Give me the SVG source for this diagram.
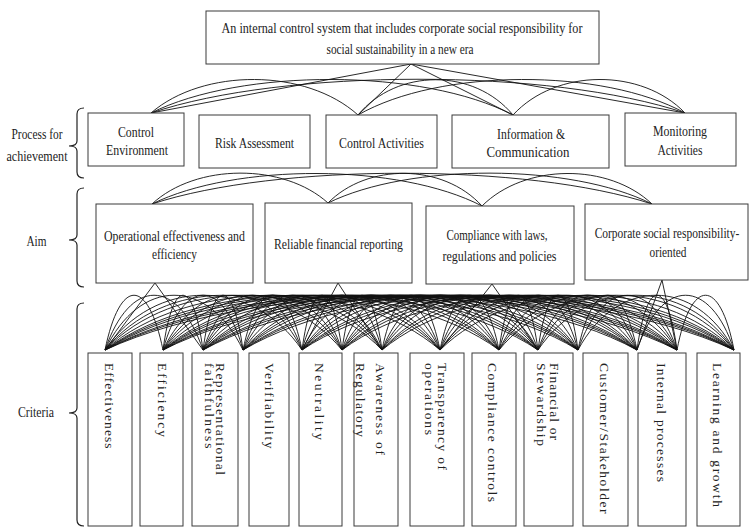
<svg xmlns="http://www.w3.org/2000/svg" width="750" height="528" viewBox="0 0 750 528">
<style>
.box{fill:#fff;stroke:#3a3a3a;stroke-width:1}
.lbl{font-family:"Liberation Serif","DejaVu Serif",serif;font-size:14px;fill:#222;text-anchor:middle}
.crit{font-family:"Liberation Serif","DejaVu Serif",serif;font-size:13.5px;fill:#222}
.con{fill:none;stroke:#111;stroke-width:0.9}
.br{fill:none;stroke:#222;stroke-width:1.2}
</style>
<rect x="0" y="0" width="750" height="528" fill="#fff"/>
<g id="connectors" class="con">
<path d="M411,64 L151,113 M411,64 L358,115 M411,64 L513,115 M411,64 L685,113"/>
<path d="M151,113 C203,68 306,68 358,115 M151,113 C241,68 423,68 513,115 M151,113 C284,68 552,68 685,113 M358,115 C397,68 474,68 513,115 M358,115 C440,68 603,68 685,113 M513,115 C556,68 642,68 685,113"/>
<path d="M152,204 C196,163 284,163 328,203 M152,204 C235,163 399,163 482,206 M152,204 C277,163 527,163 652,204 M328,203 C367,163 443,163 482,206 M328,203 C409,163 571,163 652,204 M482,206 C525,163 609,163 652,204"/>
<path d="M155,283 L105,350 M155,283 L203,350 M338,283 L302,350 M338,283 L382,350 M492,284 L440,350 M492,284 L538,350 M662,280 L637,350 M662,280 L677,350"/>
<path d="M105,350 C120,277 148,277 163,350 M105,350 C130,277 178,277 203,350 M105,350 C140,277 208,277 243,350 M105,350 C154,277 253,277 302,350 M105,350 C164,277 283,277 342,350 M105,350 C174,277 313,277 382,350 M105,350 C189,277 356,277 440,350 M105,350 C204,277 400,277 499,350 M105,350 C213,277 430,277 538,350 M105,350 C223,277 460,277 578,350 M105,350 C238,277 504,277 637,350 M105,350 C248,277 534,277 677,350 M105,350 C262,277 577,277 734,350"/>
<path d="M163,350 C173,277 193,277 203,350 M163,350 C183,277 223,277 243,350 M163,350 C198,277 267,277 302,350 M163,350 C208,277 297,277 342,350 M163,350 C218,277 327,277 382,350 M163,350 C232,277 371,277 440,350 M163,350 C247,277 415,277 499,350 M163,350 C257,277 444,277 538,350 M163,350 C267,277 474,277 578,350 M163,350 C282,277 518,277 637,350 M163,350 C292,277 548,277 677,350 M163,350 C306,277 591,277 734,350"/>
<path d="M203,350 C213,277 233,277 243,350 M203,350 C228,277 277,277 302,350 M203,350 C238,277 307,277 342,350 M203,350 C248,277 337,277 382,350 M203,350 C262,277 381,277 440,350 M203,350 C277,277 425,277 499,350 M203,350 C287,277 454,277 538,350 M203,350 C297,277 484,277 578,350 M203,350 C312,277 528,277 637,350 M203,350 C322,277 558,277 677,350 M203,350 C336,277 601,277 734,350"/>
<path d="M243,350 C258,277 287,277 302,350 M243,350 C268,277 317,277 342,350 M243,350 C278,277 347,277 382,350 M243,350 C292,277 391,277 440,350 M243,350 C307,277 435,277 499,350 M243,350 C317,277 464,277 538,350 M243,350 C327,277 494,277 578,350 M243,350 C342,277 538,277 637,350 M243,350 C352,277 568,277 677,350 M243,350 C366,277 611,277 734,350"/>
<path d="M302,350 C312,277 332,277 342,350 M302,350 C322,277 362,277 382,350 M302,350 C337,277 405,277 440,350 M302,350 C351,277 450,277 499,350 M302,350 C361,277 479,277 538,350 M302,350 C371,277 509,277 578,350 M302,350 C386,277 553,277 637,350 M302,350 C396,277 583,277 677,350 M302,350 C410,277 626,277 734,350"/>
<path d="M342,350 C352,277 372,277 382,350 M342,350 C367,277 415,277 440,350 M342,350 C381,277 460,277 499,350 M342,350 C391,277 489,277 538,350 M342,350 C401,277 519,277 578,350 M342,350 C416,277 563,277 637,350 M342,350 C426,277 593,277 677,350 M342,350 C440,277 636,277 734,350"/>
<path d="M382,350 C397,277 425,277 440,350 M382,350 C411,277 470,277 499,350 M382,350 C421,277 499,277 538,350 M382,350 C431,277 529,277 578,350 M382,350 C446,277 573,277 637,350 M382,350 C456,277 603,277 677,350 M382,350 C470,277 646,277 734,350"/>
<path d="M440,350 C455,277 484,277 499,350 M440,350 C465,277 513,277 538,350 M440,350 C475,277 543,277 578,350 M440,350 C489,277 588,277 637,350 M440,350 C499,277 618,277 677,350 M440,350 C514,277 660,277 734,350"/>
<path d="M499,350 C509,277 528,277 538,350 M499,350 C519,277 558,277 578,350 M499,350 C534,277 602,277 637,350 M499,350 C544,277 632,277 677,350 M499,350 C558,277 675,277 734,350"/>
<path d="M538,350 C548,277 568,277 578,350 M538,350 C563,277 612,277 637,350 M538,350 C573,277 642,277 677,350 M538,350 C587,277 685,277 734,350"/>
<path d="M578,350 C593,277 622,277 637,350 M578,350 C603,277 652,277 677,350 M578,350 C617,277 695,277 734,350"/>
<path d="M637,350 C647,277 667,277 677,350 M637,350 C661,277 710,277 734,350 M677,350 C691,277 720,277 734,350"/>
</g>
<g id="brackets" class="br">
<path d="M84,108 Q77,108 77,114 L77,141 Q77,146 69,146 Q77,146 77,151 L77,172 Q77,178 84,178"/>
<path d="M84,188 Q77,188 77,194 L77,235 Q77,240 69,240 Q77,240 77,245 L77,281 Q77,287 84,287"/>
<path d="M84,303 Q77,303 77,309 L77,408 Q77,413 69,413 Q77,413 77,418 L77,520 Q77,526 84,526"/>
</g>
<g id="side-labels">
<text class="lbl" x="37" y="138.5" textLength="51" lengthAdjust="spacingAndGlyphs">Process for</text>
<text class="lbl" x="37" y="160.5" textLength="61" lengthAdjust="spacingAndGlyphs">achievement</text>
<text class="lbl" x="36.5" y="245.5" textLength="20" lengthAdjust="spacingAndGlyphs">Aim</text>
<text class="lbl" x="36" y="416.5" textLength="36" lengthAdjust="spacingAndGlyphs">Criteria</text>
</g>
<g id="goal">
<rect class="box" x="206" y="11" width="393" height="53"/>
<text class="lbl" x="402" y="33" textLength="361" lengthAdjust="spacingAndGlyphs">An internal control system that includes corporate social responsibility for</text>
<text class="lbl" x="400" y="54" textLength="147" lengthAdjust="spacingAndGlyphs">social sustainability in a new era</text>
</g>
<g id="control-environment">
<rect class="box" x="88" y="113" width="96" height="53"/>
<text class="lbl" x="136" y="136.5" textLength="36" lengthAdjust="spacingAndGlyphs">Control</text>
<text class="lbl" x="137" y="154.5" textLength="62" lengthAdjust="spacingAndGlyphs">Environment</text>
</g>
<g id="risk-assessment">
<rect class="box" x="199" y="115" width="111" height="53"/>
<text class="lbl" x="254.5" y="148" textLength="79" lengthAdjust="spacingAndGlyphs">Risk Assessment</text>
</g>
<g id="control-activities">
<rect class="box" x="326" y="115" width="111" height="53"/>
<text class="lbl" x="381.5" y="148" textLength="85" lengthAdjust="spacingAndGlyphs">Control Activities</text>
</g>
<g id="information-communication">
<rect class="box" x="452" y="115" width="157" height="53"/>
<text class="lbl" x="531" y="138.5" textLength="68" lengthAdjust="spacingAndGlyphs">Information &amp;</text>
<text class="lbl" x="528" y="156.5" textLength="83" lengthAdjust="spacingAndGlyphs">Communication</text>
</g>
<g id="monitoring-activities">
<rect class="box" x="625" y="113" width="111" height="53"/>
<text class="lbl" x="680" y="136" textLength="54" lengthAdjust="spacingAndGlyphs">Monitoring</text>
<text class="lbl" x="680" y="154.5" textLength="45" lengthAdjust="spacingAndGlyphs">Activities</text>
</g>
<g id="aim-operational">
<rect class="box" x="96" y="204" width="157" height="79"/>
<text class="lbl" x="174.5" y="240.5" textLength="141" lengthAdjust="spacingAndGlyphs">Operational effectiveness and</text>
<text class="lbl" x="174.5" y="258.5" textLength="45" lengthAdjust="spacingAndGlyphs">efficiency</text>
</g>
<g id="aim-reliable">
<rect class="box" x="265" y="203" width="147" height="80"/>
<text class="lbl" x="338.5" y="248.5" textLength="129" lengthAdjust="spacingAndGlyphs">Reliable financial reporting</text>
</g>
<g id="aim-compliance">
<rect class="box" x="426" y="206" width="148" height="78"/>
<text class="lbl" x="497" y="239.5" textLength="101" lengthAdjust="spacingAndGlyphs">Compliance with laws,</text>
<text class="lbl" x="499.5" y="260.5" textLength="114" lengthAdjust="spacingAndGlyphs">regulations and policies</text>
</g>
<g id="aim-csr">
<rect class="box" x="585" y="204" width="163" height="76"/>
<text class="lbl" transform="translate(667,237.5) scale(0.82,1)" x="0" y="0">Corporate social responsibility-</text>
<text class="lbl" x="668" y="256.5" textLength="37" lengthAdjust="spacingAndGlyphs">oriented</text>
</g>
<g id="c-effectiveness"><rect class="box" x="88" y="353" width="44" height="173"/><text class="crit" transform="translate(105,363) rotate(90)" textLength="85.6">Effectiveness</text></g>
<g id="c-efficiency"><rect class="box" x="140" y="353" width="43" height="173"/><text class="crit" transform="translate(158,363) rotate(90)" textLength="74">Efficiency</text></g>
<g id="c-representational"><rect class="box" x="192" y="353" width="46" height="173"/><text class="crit" transform="translate(216,363) rotate(90)" textLength="112">Representational</text><text class="crit" transform="translate(204.5,363) rotate(90)" textLength="85.6">faithfulness</text></g>
<g id="c-verifiability"><rect class="box" x="249" y="353" width="40" height="173"/><text class="crit" transform="translate(264.5,363) rotate(90)" textLength="85.6">Verifiability</text></g>
<g id="c-neutrality"><rect class="box" x="299" y="353" width="43" height="173"/><text class="crit" transform="translate(314.5,363) rotate(90)" textLength="77">Neutrality</text></g>
<g id="c-awareness"><rect class="box" x="354" y="353" width="44" height="173"/><text class="crit" transform="translate(376,363) rotate(90)" textLength="92">Awareness of</text><text class="crit" transform="translate(356,363) rotate(90)" textLength="74">Regulatory</text></g>
<g id="c-transparency"><rect class="box" x="410" y="353" width="54" height="173"/><text class="crit" transform="translate(438,363) rotate(90)" textLength="107">Transparency of</text><text class="crit" transform="translate(425,363) rotate(90)" textLength="72">operations</text></g>
<g id="c-compliance"><rect class="box" x="472" y="353" width="44" height="173"/><text class="crit" transform="translate(488,363) rotate(90)" textLength="139">Compliance controls</text></g>
<g id="c-financial"><rect class="box" x="524" y="353" width="49" height="173"/><text class="crit" transform="translate(550,363) rotate(90)" textLength="77">Financial or</text><text class="crit" transform="translate(536.5,363) rotate(90)" textLength="83">Stewardship</text></g>
<g id="c-customer"><rect class="box" x="583" y="353" width="45" height="173"/><text class="crit" transform="translate(599.5,363) rotate(90)" textLength="150.6">Customer/Stakeholder</text></g>
<g id="c-internal"><rect class="box" x="638" y="353" width="48" height="173"/><text class="crit" transform="translate(656.5,363) rotate(90)" textLength="119">Internal processes</text></g>
<g id="c-learning"><rect class="box" x="697" y="353" width="43" height="173"/><text class="crit" transform="translate(713,363) rotate(90)" textLength="144">Learning and growth</text></g>
</svg>
